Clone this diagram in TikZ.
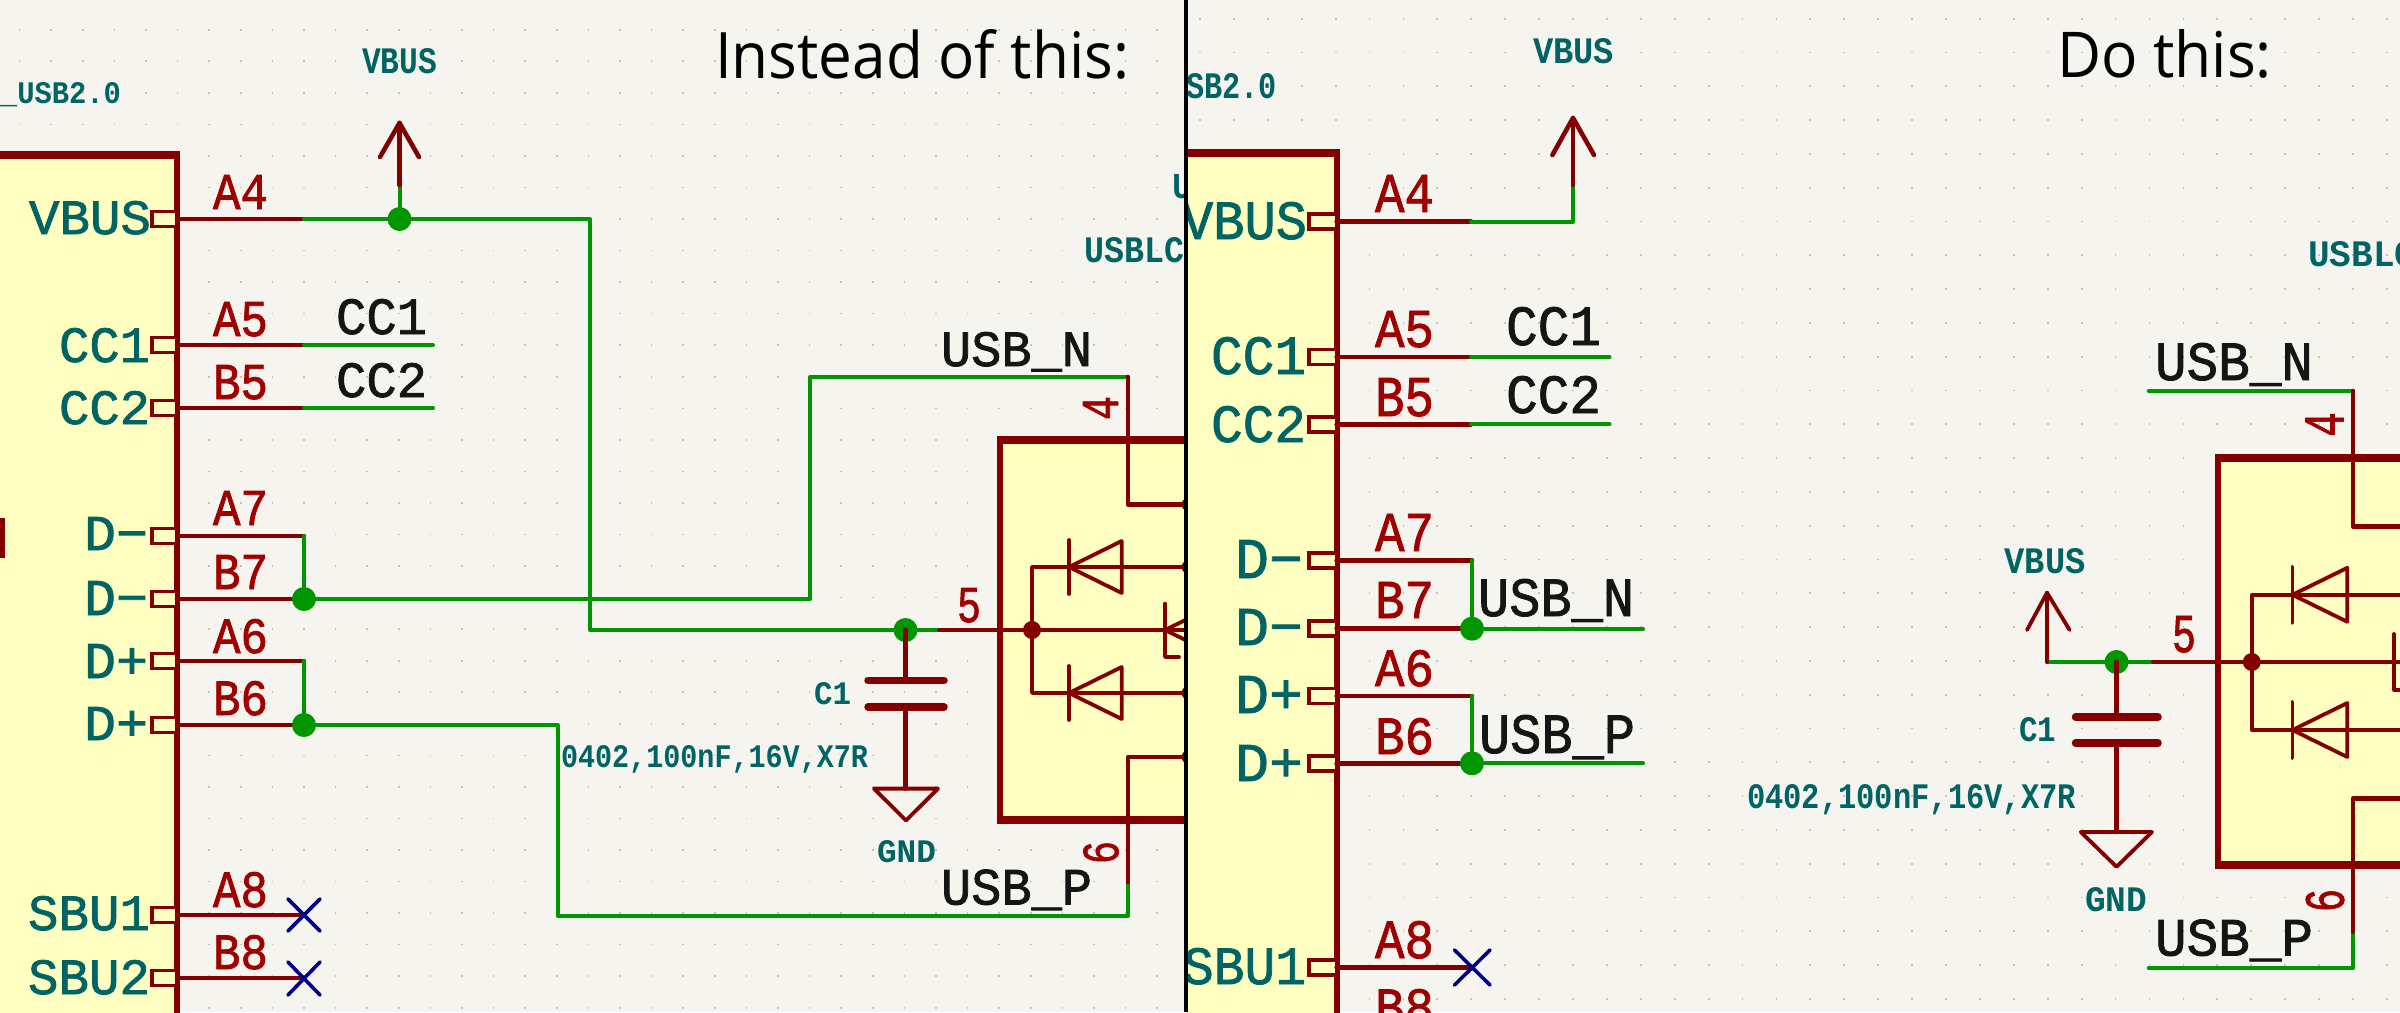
\documentclass[tikz,border=0pt]{standalone}
\usepackage{fontspec}
\usepackage{graphicx}
\newfontfamily\kf[FakeBold=1.5]{Liberation Mono}
\newfontfamily\kfb{Liberation Mono Bold}
\newfontfamily\titlef{Open Sans}
\definecolor{bgc}{HTML}{F5F4EF}
\definecolor{symb}{HTML}{FFFFC2}
\definecolor{dkred}{HTML}{840000}
\definecolor{pinnum}{HTML}{A00000}
\definecolor{tealc}{HTML}{006464}
\definecolor{wirec}{HTML}{009600}
\definecolor{ncblue}{HTML}{000084}
\definecolor{netc}{HTML}{151515}
\definecolor{griddot}{HTML}{C4C4BC}
\tikzset{
  wire/.style={draw=wirec,line width=4pt,line cap=round,line join=round},
  redline/.style={draw=dkred,line width=4.6pt,line cap=round,line join=round},
  thinred/.style={draw=dkred,line width=3.8pt,line cap=round,line join=round},
  outlinebox/.style={draw=dkred,line width=6pt,fill=symb,line join=miter},
  boxedge/.style={draw=dkred,line width=8pt},
  juncg/.style={circle,fill=wirec,inner sep=0pt,minimum size=24pt},
  juncr/.style={circle,fill=dkred,inner sep=0pt,minimum size=18pt},
  ncmark/.style={draw=ncblue,line width=3.6pt,line cap=round},
  plate/.style={draw=dkred,line width=7.5pt,line cap=round},
  label text/.style={anchor=base west,inner sep=0pt,outer sep=0pt},
}
% name, x, baseline y, width, height, colour, font, text
\newcommand{\tx}[8]{\node[label text,text=#6] (#1) at (#2,#3) {\resizebox{#4pt}{#5pt}{#7#8}};}
\newcommand{\pn}[6]{\tx{#1}{#2}{#3}{#4}{#5}{tealc}{\kf}{#6}}
\newcommand{\nm}[6]{\tx{#1}{#2}{#3}{#4}{#5}{pinnum}{\kf}{#6}}
\newcommand{\nt}[6]{\tx{#1}{#2}{#3}{#4}{#5}{netc}{\kf}{#6}}
\newcommand{\sm}[6]{\tx{#1}{#2}{#3}{#4}{#5}{tealc}{\kfb}{#6}}
% name, box x, rect left x, wire end x, y
\newcommand{\pinrow}[5]{%
  \coordinate (#1) at (#4,#5);
  \coordinate (#1b) at (#2,#5);
  \draw[draw=dkred,line width=3.8pt,fill=symb] (#3,#5-7.5) rectangle (#2,#5+7.5);
  \draw[redline] (#1b) -- (#1);}
% bar x, base x, y, half height
\newcommand{\diodeshape}[4]{%
  \draw[thinred] (#1,#3-#4) -- (#1,#3+#4);
  \draw[thinred] (#1,#3) -- (#2,#3-#4+1) -- (#2,#3+#4-1) -- cycle;}
\begin{document}
\begin{tikzpicture}[x=1pt,y=-1pt]
\useasboundingbox (0,0) rectangle (2400,1012);
\fill[bgc] (0,0) rectangle (2400,1012);
%% ---------------- LEFT PANEL ----------------
\begin{scope}
\clip (0,0) rectangle (1186,1012);
\foreach \i in {-9,...,28}{\foreach \j in {-6,...,25}{
  \fill[griddot] ({304+31.6*\i-.8},{219+31.55*\j-.8}) rectangle ++(1.6,1.6);}}
\draw[outlinebox] (-20,155) rectangle (177,1040);
\draw[boxedge] (-20,155) -- (180,155);
\draw[outlinebox] (1000,440) rectangle (1300,819.5);
\draw[boxedge] (997,440) -- (1300,440) (997,819.5) -- (1300,819.5);
\fill[dkred] (0,518) rectangle (5,558);
% pins of the connector
\pinrow{La4}{177}{152}{304}{219}
\pinrow{La5}{177}{152}{304}{345}
\pinrow{Lb5}{177}{152}{304}{408}
\pinrow{La7}{177}{152}{304}{536}
\pinrow{Lb7}{177}{152}{304}{599}
\pinrow{La6}{177}{152}{304}{661}
\pinrow{Lb6}{177}{152}{304}{725}
\pinrow{La8}{177}{152}{304}{915}
\pinrow{Lb8}{177}{152}{304}{978}
% free ends and corners
\coordinate (Lcc1) at (433,345);
\coordinate (Lcc2) at (433,408);
\coordinate (Lvj) at (399.5,219);
\coordinate (Lvp) at (399.5,185);
\coordinate (Lvt) at (399.5,123);
\coordinate (Lvl) at (380,157);
\coordinate (Lvr) at (419,157);
\coordinate (Lcj) at (905.5,630);
\coordinate (L5w) at (939,630);
\coordinate (Lrj) at (1032,630);
\coordinate (L4t) at (1128,377);
\coordinate (L6b) at (1128,915.5);
\coordinate (L6m) at (1128,882);
% wires
\draw[wire] (La5) -- (Lcc1);
\draw[wire] (Lb5) -- (Lcc2);
\draw[wire] (Lvj) -- (Lvp);
\draw[wire] (La4) -- (590,219) -- (590,630) -- (L5w);
\draw[wire] (La7) -- (Lb7);
\draw[wire] (La6) -- (Lb6);
\draw[wire] (Lb7) -- (810,599) -- (810,377) -- (L4t);
\draw[wire] (Lb6) -- (557.5,725) -- (557.5,915.5) -- (L6b) -- (L6m);
\draw[redline] (Lvp) -- (Lvt);
\draw[redline] (Lvl) -- (Lvt) -- (Lvr);
\node[juncg] (Lj1) at (Lvj) {};
\node[juncg] (Lj2) at (Lb7) {};
\node[juncg] (Lj3) at (Lb6) {};
\node[juncg] (Lj4) at (Lcj) {};
% no-connect marks
\draw[ncmark] (288,899) -- (320,931) (320,899) -- (288,931);
\draw[ncmark] (288,962) -- (320,995) (320,962) -- (288,995);
% capacitor and ground
\draw[redline] (Lcj) -- (905.5,680.5);
\draw[redline] (905.5,707) -- (905.5,788.6);
\draw[plate] (868,680.5) -- (944,680.5);
\draw[plate] (868,707) -- (944,707);
\draw[thinred] (874,788.6) -- (938,788.6) -- (906,820.5) -- cycle;
% protection IC internals
\draw[redline] (L4t) -- (1128,504.5) -- (1200,504.5);
\draw[redline] (L6m) -- (1128,757) -- (1200,757);
\draw[thinred] (L5w) -- (1200,630);
\draw[thinred] (1200,567) -- (1032,567) -- (1032,693) -- (1200,693);
\diodeshape{1069}{1121.7}{567}{27}
\diodeshape{1069}{1121.7}{693}{27}
\draw[thinred] (1179,657) -- (1165,657) -- (1165,603.6);
\draw[thinred] (1165,630) -- (1218,604) (1165,630) -- (1218,656);
\node[juncr] (Lr1) at (Lrj) {};
\foreach \yy in {504.5,567,693,757}{\fill[dkred] (1188,\yy) circle (6.5);}
% texts
\pn{Lt1}{29}{234}{122}{33}{VBUS}
\pn{Lt2}{59}{362}{91}{34}{CC1}
\pn{Lt3}{59}{424}{91}{33}{CC2}
\pn{Lt4}{84}{550}{64}{33}{D−}
\pn{Lt5}{84}{615}{64}{34}{D−}
\pn{Lt6}{84}{678}{64}{34}{D+}
\pn{Lt7}{84}{740}{64}{33}{D+}
\pn{Lt8}{28}{930}{122}{34}{SBU1}
\pn{Lt9}{28}{994}{122}{34}{SBU2}
\nm{Ln1}{213}{209}{55}{34}{A4}
\nm{Ln2}{213}{336}{55}{34}{A5}
\nm{Ln3}{213}{399}{55}{34}{B5}
\nm{Ln4}{213}{525}{55}{34}{A7}
\nm{Ln5}{213}{589}{55}{34}{B7}
\nm{Ln6}{213}{653}{55}{34}{A6}
\nm{Ln7}{213}{715}{55}{34}{B6}
\nm{Ln8}{213}{907}{55}{35}{A8}
\nm{Ln9}{213}{969}{55}{34}{B8}
\nm{Ln10}{957}{622}{24}{34}{5}
\node[rotate=90,text=pinnum,inner sep=0pt] (Ln11) at (1100.5,408) {\resizebox{24pt}{35pt}{\kf 4}};
\node[rotate=90,text=pinnum,inner sep=0pt] (Ln12) at (1101,852.5) {\resizebox{23pt}{35pt}{\kf 6}};
\nt{Lw1}{336}{334}{91}{35}{CC1}
\nt{Lw2}{336}{397}{91}{34}{CC2}
\nt{Lw3}{941}{366}{151}{34}{USB\_N}
\nt{Lw4}{941}{904.5}{151}{35}{USB\_P}
\sm{Ls1}{0}{103.3}{121}{21}{\_USB2.0}
\sm{Ls2}{362}{73}{75}{25}{VBUS}
\sm{Ls3}{814}{704.5}{37}{22}{C1}
\sm{Ls4}{877}{862}{59}{22}{GND}
\sm{Ls5}{561}{767}{307}{22}{0402,100nF,16V,X7R}
\sm{Ls6}{1084}{262}{120}{25}{USBLC6}
\sm{Ls7}{1172}{198}{20}{24}{U}
\tx{Lhead}{715}{78}{414}{49}{black}{\titlef}{Instead of this:}
\end{scope}
%% ---------------- RIGHT PANEL ----------------
\begin{scope}
\clip (1186,0) rectangle (2400,1012);
\foreach \i in {-11,...,24}{\foreach \j in {-6,...,23}{
  \fill[griddot] ({1573+33.91*\i-.9},{221.5+33.8*\j-.9}) rectangle ++(1.8,1.8);}}
\draw[outlinebox] (1160,153) rectangle (1336.6,1040);
\draw[boxedge] (1160,153) -- (1339.6,153);
\draw[outlinebox] (2218,458) rectangle (2500,865);
\draw[boxedge] (2215,458) -- (2500,458) (2215,865) -- (2500,865);
\pinrow{Ra4}{1336.6}{1309}{1471}{221.5}
\pinrow{Ra5}{1336.6}{1309}{1471}{357}
\pinrow{Rb5}{1336.6}{1309}{1471}{424.3}
\pinrow{Ra7}{1336.6}{1309}{1472}{560.3}
\pinrow{Rb7}{1336.6}{1309}{1472}{628.7}
\pinrow{Ra6}{1336.6}{1309}{1472}{696}
\pinrow{Rb6}{1336.6}{1309}{1472}{763.3}
\pinrow{Ra8}{1336.6}{1309}{1472}{967.7}
\coordinate (Rcc1) at (1609.5,357);
\coordinate (Rcc2) at (1609.5,424.3);
\coordinate (Rn) at (1643,628.7);
\coordinate (Rp) at (1643,763.3);
\coordinate (Rvc) at (1573,221.5);
\coordinate (Rvp) at (1573,185);
\coordinate (Rvt) at (1573,118);
\coordinate (Rvl) at (1552.4,155);
\coordinate (Rvr) at (1594,155);
\coordinate (Rv2) at (2047,662);
\coordinate (Rv2t) at (2047,592.7);
\coordinate (Rv2l) at (2027,630);
\coordinate (Rv2r) at (2069.6,630);
\coordinate (Rcj) at (2116.5,662);
\coordinate (R5w) at (2153,662);
\coordinate (Rrj) at (2251.8,662);
\coordinate (R4s) at (2148.7,391);
\coordinate (R4t) at (2353,391);
\coordinate (R6s) at (2148.7,968);
\coordinate (R6b) at (2353,968);
\coordinate (R6m) at (2353,931.6);
\draw[wire] (Ra4) -- (Rvc) -- (Rvp);
\draw[wire] (Ra5) -- (Rcc1);
\draw[wire] (Rb5) -- (Rcc2);
\draw[wire] (Ra7) -- (Rb7);
\draw[wire] (Ra6) -- (Rb6);
\draw[wire] (Rb7) -- (Rn);
\draw[wire] (Rb6) -- (Rp);
\draw[wire] (R4s) -- (R4t);
\draw[wire] (R6s) -- (R6b) -- (R6m);
\draw[wire] (Rv2) -- (R5w);
\draw[redline] (Rvp) -- (Rvt);
\draw[redline] (Rvl) -- (Rvt) -- (Rvr);
\draw[thinred] (Rv2) -- (Rv2t);
\draw[thinred] (Rv2l) -- (Rv2t) -- (Rv2r);
\node[juncg] (Rj1) at (Rb7) {};
\node[juncg] (Rj2) at (Rb6) {};
\node[juncg] (Rj3) at (Rcj) {};
\draw[ncmark] (1454.5,950) -- (1490,985) (1490,950) -- (1454.5,985);
\draw[redline] (Rcj) -- (2116.5,717);
\draw[redline] (2116.5,743) -- (2116.5,832);
\draw[plate] (2075.5,717) -- (2158,717);
\draw[plate] (2075.5,743) -- (2158,743);
\draw[thinred] (2080.8,832) -- (2152,832) -- (2116.5,866.8) -- cycle;
\draw[redline] (R4t) -- (2353,526.4) -- (2420,526.4);
\draw[redline] (R6m) -- (2353,798.5) -- (2420,798.5);
\draw[thinred] (R5w) -- (2420,662);
\draw[thinred] (2420,594.8) -- (2251.8,594.8) -- (2251.8,730) -- (2420,730);
\diodeshape{2292.4}{2347.3}{594.8}{28}
\diodeshape{2292.4}{2347.3}{730}{28}
\draw[thinred] (2415,689.6) -- (2394,689.6) -- (2394,634);
\node[juncr] (Rr1) at (Rrj) {};
\pn{Rt1}{1182}{239}{125}{37}{VBUS}
\pn{Rt2}{1211}{374}{95}{37}{CC1}
\pn{Rt3}{1211}{442}{95}{36}{CC2}
\pn{Rt4}{1235}{578}{68}{38}{D−}
\pn{Rt5}{1235}{645}{68}{36}{D−}
\pn{Rt6}{1235}{713}{68}{37}{D+}
\pn{Rt7}{1235}{781}{68}{36}{D+}
\pn{Rt8}{1183}{984}{123}{36}{SBU1}
\nm{Rn1}{1375}{212}{59}{37}{A4}
\nm{Rn2}{1375}{347}{59}{36}{A5}
\nm{Rn3}{1375}{416}{59}{38}{B5}
\nm{Rn4}{1375}{551}{59}{37}{A7}
\nm{Rn5}{1375}{618}{59}{36}{B7}
\nm{Rn6}{1375}{686}{59}{36}{A6}
\nm{Rn7}{1375}{754}{59}{36}{B6}
\nm{Rn8}{1375}{958}{59}{37}{A8}
\nm{Rn9}{1375}{1025}{59}{36}{B8}
\nm{Rn10}{2172}{652}{24}{36}{5}
\node[rotate=90,text=pinnum,inner sep=0pt] (Rn11) at (2324.5,424.5) {\resizebox{25pt}{38pt}{\kf 4}};
\node[rotate=90,text=pinnum,inner sep=0pt] (Rn12) at (2325,900.5) {\resizebox{23pt}{38pt}{\kf 6}};
\nt{Rw1}{1506}{345}{95}{38}{CC1}
\nt{Rw2}{1506}{413}{95}{37}{CC2}
\nt{Rw3}{1478}{616}{156}{37}{USB\_N}
\nt{Rw4}{1479}{753}{156}{38}{USB\_P}
\nt{Rw5}{2155}{380}{158}{37}{USB\_N}
\nt{Rw6}{2155}{955.5}{158}{36}{USB\_P}
\sm{Rs1}{1168}{98}{109}{25}{USB2.0}
\sm{Rs2}{1533}{63}{81}{25}{VBUS}
\sm{Rs3}{2019}{741.5}{37}{24}{C1}
\sm{Rs4}{2085}{911}{62}{24}{GND}
\sm{Rs5}{1747}{808.7}{329}{24}{0402,100nF,16V,X7R}
\sm{Rs6}{2308}{266.7}{130}{25}{USBLC6}
\sm{Rs7}{2004.5}{573}{81}{25}{VBUS}
\tx{Rhead}{2057}{77}{215}{48}{black}{\titlef}{Do this:}
\end{scope}
%% divider
\coordinate (divt) at (1186,0);
\coordinate (divb) at (1186,1012);
\draw[black,line width=4pt] (divt) -- (divb);
\end{tikzpicture}
\end{document}
